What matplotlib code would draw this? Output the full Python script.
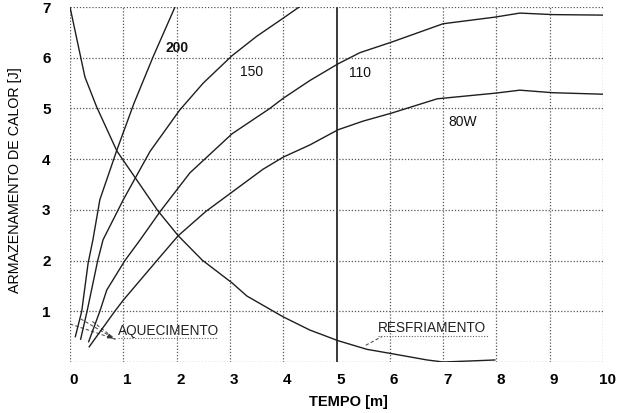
import matplotlib
matplotlib.use("Agg")
import matplotlib.pyplot as plt
from matplotlib.transforms import ScaledTranslation

plt.rcParams['font.family'] = ['Liberation Sans', 'DejaVu Sans']

# ---- data ----
x_ticks = [0, 1, 2, 3, 4, 5, 6, 7, 8, 9, 10]
y_ticks = [1, 2, 3, 4, 5, 6, 7]

x_200 = [0.10, 0.22, 0.34, 0.43, 0.56, 0.88, 1.20, 1.56, 1.97]
y_200 = [0.50, 1.00, 1.95, 2.41, 3.20, 4.18, 5.10, 6.02, 7.00]

x_150 = [0.20, 0.32, 0.52, 0.62, 1.00, 1.50, 2.06, 2.50, 3.04, 3.50, 4.00, 4.30]
y_150 = [0.45, 1.00, 2.00, 2.41, 3.20, 4.15, 4.97, 5.50, 6.04, 6.42, 6.78, 7.00]

x_110 = [0.35, 0.56, 0.69, 1.03, 1.31, 1.70, 2.25, 3.04, 3.75, 4.00, 4.50, 5.03, 5.44, 6.04, 7.00, 7.97, 8.44, 9.06, 10.0]
y_110 = [0.40, 1.00, 1.42, 2.00, 2.40, 2.98, 3.73, 4.50, 5.00, 5.20, 5.55, 5.88, 6.10, 6.31, 6.67, 6.80, 6.88, 6.85, 6.84]

x_80 = [0.36, 0.84, 1.00, 1.63, 2.03, 2.55, 3.04, 3.62, 4.00, 4.50, 5.03, 5.50, 6.04, 6.89, 7.97, 8.44, 9.06, 10.0]
y_80 = [0.30, 1.00, 1.22, 2.00, 2.49, 2.97, 3.35, 3.80, 4.04, 4.28, 4.58, 4.75, 4.91, 5.19, 5.30, 5.36, 5.31, 5.28]

x_cool = [0.00, 0.28, 0.50, 0.88, 1.65, 2.03, 2.48, 3.04, 3.32, 4.00, 4.50, 5.03, 5.57, 6.06, 6.70, 7.00, 7.50, 7.97]
y_cool = [7.00, 5.62, 5.03, 4.16, 2.98, 2.49, 2.01, 1.56, 1.30, 0.89, 0.63, 0.42, 0.25, 0.16, 0.04, 0.00, 0.02, 0.04]

curve_labels = ["200", "150", "110", "80W"]

# ---- figure ----
fig = plt.figure(figsize=(6.32, 4.13), dpi=100)
ax = fig.add_axes([70/632, 1-362/413, (603-70)/632, (362-7)/413])
ax.set_xlim(0, 10)
ax.set_ylim(0, 7)

for s in ax.spines.values():
    s.set_visible(False)

grid_kw = dict(color='#555555', lw=0.9, ls=(0, (1, 1.5)), zorder=1)
for xv in x_ticks:
    if xv == 5:
        ax.axvline(xv, color='#2a2a2a', lw=1.3, zorder=1)
    else:
        ax.axvline(xv, **grid_kw)
for yv in [0] + y_ticks:
    ax.axhline(yv, **grid_kw)

line_kw = dict(color='#1e1e1e', lw=1.0, zorder=3)
ax.plot(x_200, y_200, **line_kw)
ax.plot(x_150, y_150, **line_kw)
ax.plot(x_110, y_110, **line_kw)
ax.plot(x_80, y_80, **line_kw)
ax.plot(x_cool, y_cool, **line_kw)

# curve labels
txt_kw = dict(fontsize=10, color='#111111', ha='center', va='center', zorder=4)
ax.text(2.0, 6.19, curve_labels[0], fontweight='bold', **txt_kw)
ax.text(3.4, 5.72, curve_labels[1], **txt_kw)
ax.text(5.44, 5.70, curve_labels[2], **txt_kw)
ax.text(7.37, 4.73, curve_labels[3], **txt_kw)

# AQUECIMENTO label with leaders
ax.text(0.9, 0.62, "AQUECIMENTO", fontsize=9.8, color='#222222', ha='left', va='center', zorder=4)
ax.plot([0.9, 2.78], [0.47, 0.47], color='#666666', lw=0.8, ls=(0, (1, 1.5)), zorder=2)
lead_kw = dict(color='#555555', lw=0.8, ls=(0, (3, 2)), zorder=2)
ax.plot([0.0, 0.85], [0.75, 0.45], **lead_kw)
ax.plot([0.2, 0.85], [0.85, 0.45], **lead_kw)
ax.plot([0.42, 0.85], [0.80, 0.45], **lead_kw)
ax.annotate("", xy=(0.85, 0.44), xytext=(0.7, 0.52),
            arrowprops=dict(arrowstyle='-|>', color='#333333', lw=0.8, mutation_scale=7))

# RESFRIAMENTO label with leader
ax.text(5.78, 0.67, "RESFRIAMENTO", fontsize=9.8, color='#222222', ha='left', va='center', zorder=4)
ax.plot([5.78, 7.85], [0.52, 0.52], color='#666666', lw=0.8, ls=(0, (1, 1.5)), zorder=2)
ax.plot([5.55, 5.85], [0.33, 0.50], **lead_kw)

# ticks
ax.set_xticks(x_ticks)
ax.set_yticks(y_ticks)
ax.set_xticklabels([str(v) for v in x_ticks], fontsize=11, fontweight='bold')
ax.set_yticklabels([str(v) for v in y_ticks], fontsize=11, fontweight='bold')
ax.tick_params(axis='x', length=0, pad=8)
ax.tick_params(axis='y', length=0, pad=14)
off = ScaledTranslation(4/100, 0, fig.dpi_scale_trans)
for lab in ax.get_xticklabels():
    lab.set_transform(lab.get_transform() + off)

fig.text(348/632, 1-402/413, "TEMPO [m]", fontsize=10.5, fontweight='bold', ha='center', va='center')
fig.text(15/632, 1-180/413, "ARMAZENAMENTO DE CALOR [J]", fontsize=10.3, rotation=90, ha='center', va='center')

fig.savefig("out.png", dpi=100)
